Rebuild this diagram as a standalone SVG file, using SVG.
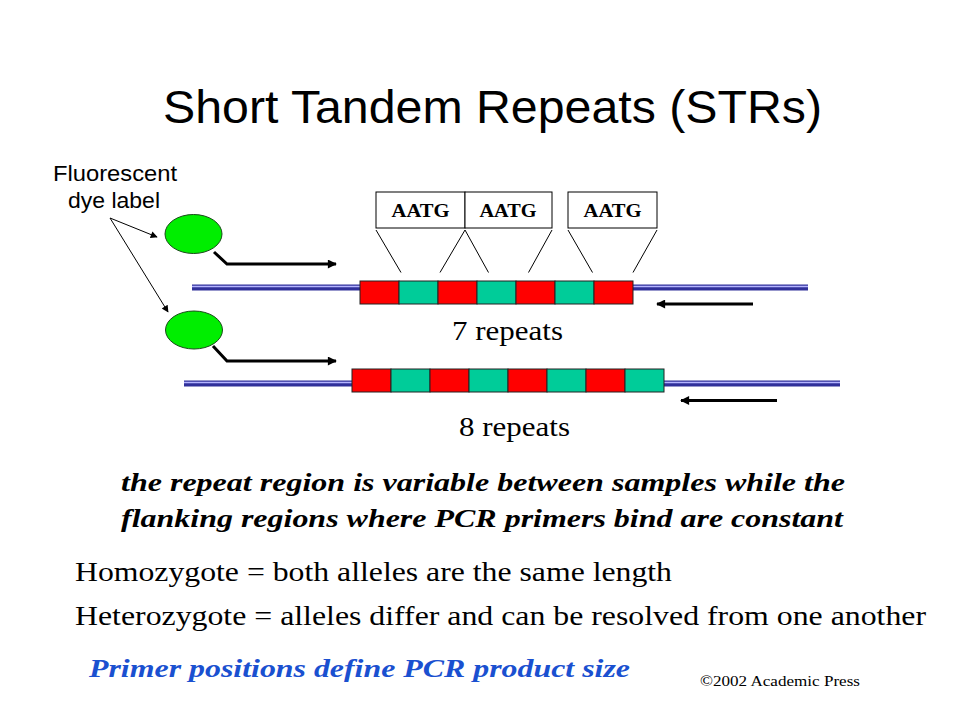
<svg xmlns="http://www.w3.org/2000/svg" width="960" height="720" viewBox="0 0 960 720">
<defs>
<marker id="ah" viewBox="0 0 10 10" refX="9" refY="5" markerWidth="3.6" markerHeight="3" orient="auto" markerUnits="strokeWidth"><path d="M0,0 L10,5 L0,10 z" fill="#000"/></marker>
<marker id="ahs" viewBox="0 0 10 10" refX="9" refY="5" markerWidth="9" markerHeight="7" orient="auto" markerUnits="strokeWidth"><path d="M0,0 L10,5 L0,10 z" fill="#000"/></marker>
</defs>
<style>
.sans{font-family:"Liberation Sans",Arial,sans-serif;fill:#000}
.serif{font-family:"Liberation Serif","Times New Roman",serif;fill:#000}
.bi{font-family:"Liberation Serif","Times New Roman",serif;font-weight:bold;font-style:italic}
.red{fill:#ff0000;stroke:#222;stroke-width:1}
.teal{fill:#00cc99;stroke:#222;stroke-width:1}
.dna{fill:#30309a}
.dnain{stroke:#b4b4ff;stroke-width:1.5}
.dye{fill:#00ee00;stroke:#1a4a1a;stroke-width:1}
.primer{fill:none;stroke:#000;stroke-width:3;marker-end:url(#ah)}
.thin{fill:none;stroke:#000;stroke-width:1}
.box{fill:#fff;stroke:#000;stroke-width:1}
</style>
<rect width="960" height="720" fill="#fff"/>
<text class="sans" x="163" y="123" font-size="47" textLength="659" lengthAdjust="spacingAndGlyphs">Short Tandem Repeats (STRs)</text>

<g id="label">
<text class="sans" x="53" y="181" font-size="22" textLength="124" lengthAdjust="spacingAndGlyphs">Fluorescent</text>
<text class="sans" x="68" y="208" font-size="22" textLength="92" lengthAdjust="spacingAndGlyphs">dye label</text>
</g>

<g id="allele7">
<rect class="dna" x="192" y="284.5" width="616" height="6"/>
<line class="dnain" x1="192" y1="286.5" x2="808" y2="286.5"/>
<rect class="red" x="360" y="281" width="39" height="23"/>
<rect class="teal" x="399" y="281" width="39" height="23"/>
<rect class="red" x="438" y="281" width="39" height="23"/>
<rect class="teal" x="477" y="281" width="39" height="23"/>
<rect class="red" x="516" y="281" width="39" height="23"/>
<rect class="teal" x="555" y="281" width="39" height="23"/>
<rect class="red" x="594" y="281" width="39" height="23"/>
</g>

<g id="allele8">
<rect class="dna" x="184" y="380.5" width="656" height="6"/>
<line class="dnain" x1="184" y1="382.5" x2="840" y2="382.5"/>
<rect class="red" x="352" y="369" width="39" height="23"/>
<rect class="teal" x="391" y="369" width="39" height="23"/>
<rect class="red" x="430" y="369" width="39" height="23"/>
<rect class="teal" x="469" y="369" width="39" height="23"/>
<rect class="red" x="508" y="369" width="39" height="23"/>
<rect class="teal" x="547" y="369" width="39" height="23"/>
<rect class="red" x="586" y="369" width="39" height="23"/>
<rect class="teal" x="625" y="369" width="39" height="23"/>
</g>

<g id="units">
<rect class="box" x="376" y="192" width="89" height="36"/>
<rect class="box" x="465" y="192" width="87" height="36"/>
<rect class="box" x="568" y="192" width="89" height="36"/>
<text class="serif" x="391.5" y="217.3" font-size="18.5" font-weight="bold" textLength="58" lengthAdjust="spacingAndGlyphs">AATG</text>
<text class="serif" x="479.5" y="217.3" font-size="18.5" font-weight="bold" textLength="57" lengthAdjust="spacingAndGlyphs">AATG</text>
<text class="serif" x="583.5" y="217.3" font-size="18.5" font-weight="bold" textLength="58" lengthAdjust="spacingAndGlyphs">AATG</text>
</g>

<g id="dye1"><ellipse class="dye" cx="193.5" cy="234" rx="28.5" ry="19.5"/></g>
<g id="dye2"><ellipse class="dye" cx="194" cy="330" rx="28.5" ry="19"/></g>

<g id="connectors">
<line class="thin" x1="376" y1="230" x2="401" y2="272.5"/>
<line class="thin" x1="465" y1="230" x2="440" y2="272.5"/>
<line class="thin" x1="465" y1="230" x2="488.5" y2="272.5"/>
<line class="thin" x1="552" y1="230" x2="528.5" y2="272.5"/>
<line class="thin" x1="568" y1="230" x2="592.5" y2="272.5"/>
<line class="thin" x1="657" y1="230" x2="633" y2="272.5"/>
<polyline class="primer" points="214,252 227,264 336,264"/>
<polyline class="primer" points="213,346 227,361 336,361"/>
<line class="primer" x1="753" y1="304" x2="657" y2="304"/>
<line class="primer" x1="777" y1="400.5" x2="681" y2="400.5"/>
<line class="thin" x1="110" y1="218" x2="157" y2="237" style="marker-end:url(#ahs)"/>
<line class="thin" x1="110" y1="218" x2="168" y2="312" style="marker-end:url(#ahs)"/>
</g>

<text class="serif" x="452" y="339.5" font-size="28" textLength="111" lengthAdjust="spacingAndGlyphs">7 repeats</text>
<text class="serif" x="459" y="436" font-size="28" textLength="111" lengthAdjust="spacingAndGlyphs">8 repeats</text>

<text class="bi" x="121" y="491" font-size="26" fill="#000" textLength="724" lengthAdjust="spacingAndGlyphs">the repeat region is variable between samples while the</text>
<text class="bi" x="121" y="527" font-size="26" fill="#000" textLength="722" lengthAdjust="spacingAndGlyphs">flanking regions where PCR primers bind are constant</text>
<text class="serif" x="75" y="580.5" font-size="27" textLength="597" lengthAdjust="spacingAndGlyphs">Homozygote = both alleles are the same length</text>
<text class="serif" x="75" y="625" font-size="27" textLength="851" lengthAdjust="spacingAndGlyphs">Heterozygote = alleles differ and can be resolved from one another</text>
<text class="bi" x="89" y="677" font-size="26" fill="#1a50d0" textLength="541" lengthAdjust="spacingAndGlyphs">Primer positions define PCR product size</text>
<text class="serif" x="700" y="686" font-size="15" textLength="160" lengthAdjust="spacingAndGlyphs">©2002 Academic Press</text>
</svg>
